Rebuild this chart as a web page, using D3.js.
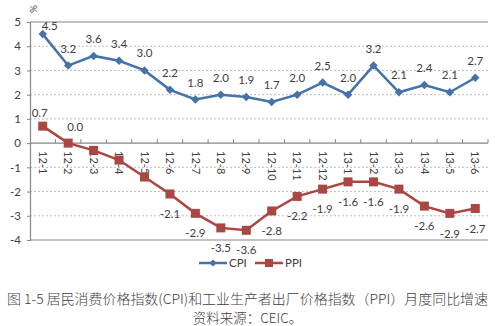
<!DOCTYPE html>
<html><head><meta charset="utf-8">
<script src="https://cdn.jsdelivr.net/npm/d3@7"></script>
<style>
html,body{margin:0;padding:0;background:#fff;}
svg{display:block;}
text{font-family:Lato,"Liberation Sans",sans-serif;fill:#404040;}
</style></head>
<body>
<svg id="c" width="495" height="326"></svg>
<script>
const categories = ["12-1","12-2","12-3","12-4","12-5","12-6","12-7","12-8","12-9","12-10","12-11","12-12","13-1","13-2","13-3","13-4","13-5","13-6"];
const cpi = [4.5,3.2,3.6,3.4,3.0,2.2,1.8,2.0,1.9,1.7,2.0,2.5,2.0,3.2,2.1,2.4,2.1,2.7];
const ppi = [0.7,0.0,-0.3,-0.7,-1.4,-2.1,-2.9,-3.5,-3.6,-2.8,-2.2,-1.9,-1.6,-1.6,-1.9,-2.6,-2.9,-2.7];
const yTicks = [5,4,3,2,1,0,-1,-2,-3,-4];
const seriesNames = ["CPI","PPI"];
const caption1 = "图 1-5 居民消费价格指数(CPI)和工业生产者出厂价格指数（PPI）月度同比增速";
const caption2 = "资料来源：CEIC。";

const svg = d3.select("#c");
const L = 30, R = 488, T = 22, B = 240;
const x = d3.scaleBand().domain(categories).range([L, R]);
const y = d3.scaleLinear().domain([-4, 5]).range([B, T]);
const cx = d => x(d) + x.bandwidth() / 2;
const blue = "#4572A7", red = "#AA4643", axisC = "#868686";
const hy = s => s.replace(/\u2212/g, "-");

// gridlines
svg.append("g").selectAll("line").data(yTicks.filter(v => v !== 0 && v !== 5 && v !== -4)).join("line")
  .attr("x1", L).attr("x2", R).attr("y1", d => y(d)).attr("y2", d => y(d))
  .attr("stroke", "#BEBEBE").attr("stroke-width", 1).attr("stroke-dasharray", "2,2");
// top and bottom frame
[5, -4].forEach(v => svg.append("line").attr("x1", L).attr("x2", R).attr("y1", y(v)).attr("y2", y(v))
  .attr("stroke", axisC).attr("stroke-width", 1.2));

// y axis
const ya = svg.append("g").attr("transform", `translate(${L},0)`)
  .call(d3.axisLeft(y).tickValues(yTicks).tickSize(3).tickFormat(d => hy(d3.format("d")(d))));
ya.select(".domain").attr("stroke", axisC).attr("stroke-width", 1.2);
ya.selectAll(".tick line").attr("stroke", axisC);
ya.selectAll(".tick text").attr("font-size", 11.5).attr("fill", "#404040").attr("x", -9)
  .style("font-family", "Lato, 'Liberation Sans', sans-serif");

// % title
svg.append("text").attr("transform", `translate(33,9) rotate(-90)`).attr("text-anchor", "middle")
  .attr("dy", "0.35em").attr("font-size", 10).text("%");

// x axis at zero
const xa = svg.append("g").attr("transform", `translate(0,${y(0)})`);
xa.append("line").attr("x1", L).attr("x2", R).attr("stroke", axisC).attr("stroke-width", 1.2);
xa.selectAll("line.tk").data(categories).join("line").attr("class", "tk")
  .attr("x1", d => x(d) + x.bandwidth()).attr("x2", d => x(d) + x.bandwidth())
  .attr("y1", -4).attr("y2", 0).attr("stroke", axisC);
xa.selectAll("text").data(categories).join("text")
  .attr("transform", d => `translate(${cx(d)},8) rotate(90)`)
  .attr("dy", "0.35em").attr("font-size", 11).attr("text-anchor", "start").text(d => d);

// lines
const lineGen = vals => d3.line().x((d, i) => cx(categories[i])).y(d => y(d))(vals);
svg.append("path").attr("d", lineGen(ppi)).attr("fill", "none").attr("stroke", red).attr("stroke-width", 2.5);
svg.append("path").attr("d", lineGen(cpi)).attr("fill", "none").attr("stroke", blue).attr("stroke-width", 2.5);

// markers
svg.append("g").selectAll("path").data(cpi).join("path")
  .attr("d", d3.symbol().type(d3.symbolSquare).size(36))
  .attr("transform", (d, i) => `translate(${cx(categories[i])},${y(d)}) rotate(45)`)
  .attr("fill", blue);
svg.append("g").selectAll("rect").data(ppi).join("rect")
  .attr("x", (d, i) => cx(categories[i]) - 4.5).attr("y", d => y(d) - 4.5)
  .attr("width", 9).attr("height", 9).attr("fill", red);

// data labels
const fmt = v => hy(d3.format(".1f")(v));
svg.append("g").selectAll("text").data(cpi).join("text")
  .attr("x", (d, i) => cx(categories[i]) + (i === 0 ? 7 : 0))
  .attr("y", (d, i) => y(d) - (i === 0 ? 8 : 17))
  .attr("dy", "0.35em").attr("text-anchor", "middle").attr("font-size", 11.5).text(d => fmt(d));
svg.append("g").selectAll("text").data(ppi.map((v, i) => ({v, i})).filter(o => o.i < 2 || o.i > 4)).join("text")
  .attr("x", o => cx(categories[o.i]) + (o.i === 0 ? -3 : o.i === 1 ? 7 : 0))
  .attr("y", o => o.i === 0 ? y(o.v) - 13 : o.i === 1 ? y(o.v) - 16 : y(o.v) + 20 + (o.v <= -2.9 && o.i > 15 ? 1 : 0))
  .attr("dy", "0.35em").attr("text-anchor", "middle").attr("font-size", 11.5).text(o => fmt(o.v));

// legend
const lg = svg.append("g").attr("transform", "translate(0,263)");
lg.append("line").attr("x1", 199).attr("x2", 227).attr("stroke", blue).attr("stroke-width", 2.5);
lg.append("path").attr("d", d3.symbol().type(d3.symbolSquare).size(26)).attr("transform", "translate(213,0) rotate(45)").attr("fill", blue);
lg.append("text").attr("x", 229).attr("dy", "0.35em").attr("font-size", 11.5).text(seriesNames[0]);
lg.append("line").attr("x1", 255).attr("x2", 283).attr("stroke", red).attr("stroke-width", 2.5);
lg.append("rect").attr("x", 265).attr("y", -4).attr("width", 8).attr("height", 8).attr("fill", red);
lg.append("text").attr("x", 285).attr("dy", "0.35em").attr("font-size", 11.5).text(seriesNames[1]);

// captions
svg.append("text").attr("x", 247.5).attr("y", 299).attr("dy", "0.35em").attr("text-anchor", "middle")
  .attr("font-size", 13.5).style("font-family", "'Noto Sans CJK SC', 'Liberation Serif', serif").style("font-weight", 300).attr("fill", "#222")
  .attr("textLength", 481).attr("lengthAdjust", "spacingAndGlyphs").text(caption1);
svg.append("text").attr("x", 247.5).attr("y", 318).attr("dy", "0.35em").attr("text-anchor", "middle")
  .attr("font-size", 13.5).style("font-family", "'Noto Sans CJK SC', 'Liberation Serif', serif").style("font-weight", 300).attr("fill", "#222")
  .text(caption2);
</script>
</body></html>
